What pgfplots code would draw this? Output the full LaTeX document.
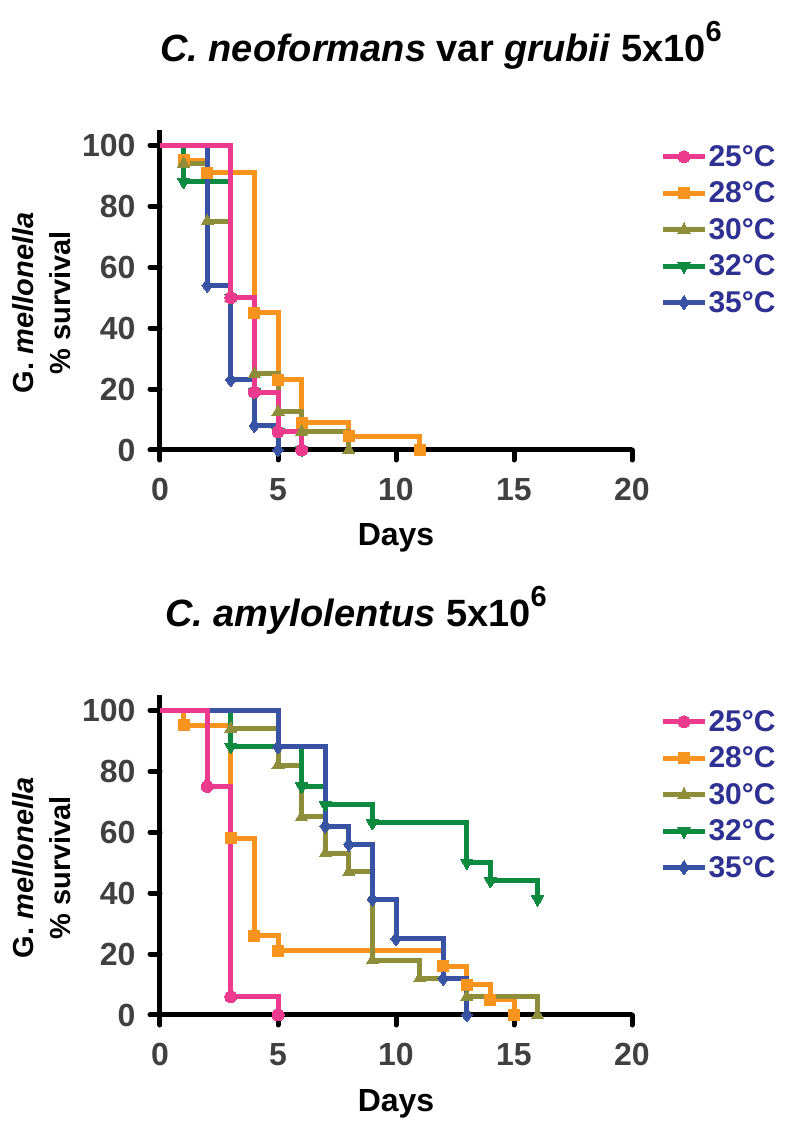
\documentclass[border=0pt]{standalone}
\usepackage{fontspec}
\setmainfont{Liberation Sans}
\usepackage{pgfplots}
\pgfplotsset{compat=1.18}
\definecolor{cpink}{HTML}{EC3A8E}
\definecolor{corange}{HTML}{F7941D}
\definecolor{colive}{HTML}{8E8E3A}
\definecolor{cgreen}{HTML}{0B8A40}
\definecolor{cblue}{HTML}{3953A4}
\definecolor{legblue}{HTML}{2E3192}
\definecolor{tickgray}{HTML}{404040}
\pgfplotsset{
  s25/.style={cpink, line width=5pt, mark=*, mark size=6pt, mark options={solid, fill=cpink, line width=0pt}},
  s28/.style={corange, line width=5pt, mark=square*, mark size=5.5pt, mark options={solid, fill=corange, line width=0pt}},
  s30/.style={colive, line width=5pt, mark=triangle*, mark size=7pt, mark options={solid, fill=colive, line width=0pt}},
  s32/.style={cgreen, line width=5pt, mark=triangle*, mark size=7pt, mark options={solid, fill=cgreen, line width=0pt, rotate=180}},
  s35/.style={cblue, line width=5pt, mark=diamond*, mark size=7pt, mark options={solid, fill=cblue, line width=0pt}},
  survax/.style={
    scale only axis, width=472pt, height=320pt,
    xmin=0, xmax=20, ymin=0, ymax=105,
    axis x line*=bottom, axis y line*=left,
    axis line style={line width=5pt, black},
    xtick={0,5,...,20}, ytick={0,20,...,100},
    tick align=outside, major tick length=10pt,
    every tick/.style={line width=5pt, black, line cap=round},
    tick label style={font=\bfseries\fontsize{32}{32}\selectfont, text=tickgray},
    /pgf/number format/assume math mode=true,
    xticklabel style={yshift=-15pt},
    yticklabel style={xshift=-11pt},
    clip=false,
    xlabel={Days},
    xlabel style={font=\bfseries\fontsize{32}{32}\selectfont, at={(axis description cs:0.5,0)}, anchor=base, yshift=-96pt},
    ylabel={G. \textit{mellonella}\\\% survival},
    ylabel style={font=\bfseries\fontsize{29}{37}\selectfont, align=center, at={(axis description cs:-0.25,0.46)}, anchor=center},
    legend style={at={(1.06,0.955)}, anchor=north west, draw=none, fill=none, inner sep=0pt,
      font=\bfseries\fontsize{30}{30}\selectfont, text=legblue, row sep=12pt,
      nodes={inner sep=1pt}},
    legend cell align=left,
    legend image code/.code={\draw[#1, mark repeat=2, mark phase=2] plot coordinates {(0pt,0pt)(21pt,0pt)(42pt,0pt)};},
    const plot mark left,
  },
}
\begin{document}
\begin{tikzpicture}
\useasboundingbox (0,0) rectangle (798pt,1127pt);
% titles
\node[anchor=base west, inner sep=0pt, font=\bfseries\fontsize{38}{38}\selectfont] at (160pt,1065pt)
  {\textit{C. neoformans} var \textit{grubii} 5x10\raisebox{20pt}{\fontsize{29}{29}\selectfont 6}};
\node[anchor=base west, inner sep=0pt, font=\bfseries\fontsize{38}{38}\selectfont] at (165pt,500pt)
  {\textit{C. amylolentus} 5x10\raisebox{20pt}{\fontsize{29}{29}\selectfont 6}};

% top plot
\begin{axis}[survax, at={(160pt,677pt)}, anchor=origin]
\addlegendimage{s25}\addlegendentry{25°C}
\addlegendimage{s28}\addlegendentry{28°C}
\addlegendimage{s30}\addlegendentry{30°C}
\addlegendimage{s32}\addlegendentry{32°C}
\addlegendimage{s35}\addlegendentry{35°C}
\addplot[s28, forget plot, mark indices={2,3,4,5,6,7,8}] coordinates {(0,100)(1,95)(2,91)(4,45)(5,23)(6,9)(8,4.5)(11,0)};
\addplot[s30, forget plot, mark indices={2,3,4,5,6,7,8}] coordinates {(0,100)(1,94)(2,75)(3,50)(4,25)(5,12.5)(6,6)(8,0)};
\addplot[s32, forget plot, mark indices={2,3,4,5,6}] coordinates {(0,100)(1,88)(3,50)(4,19)(5,6)(6,0)};
\addplot[s35, forget plot, mark indices={2,3,4,5}] coordinates {(0,100)(2,54)(3,23)(4,8)(5,0)};
\addplot[s25, forget plot, mark indices={2,3,4,5,6}] coordinates {(0,100)(3,50)(4,19)(5,6)(6,0)};
\end{axis}

% bottom plot
\begin{axis}[survax, at={(160pt,112pt)}, anchor=origin]
\addlegendimage{s25}\addlegendentry{25°C}
\addlegendimage{s28}\addlegendentry{28°C}
\addlegendimage{s30}\addlegendentry{30°C}
\addlegendimage{s32}\addlegendentry{32°C}
\addlegendimage{s35}\addlegendentry{35°C}
\addplot[s28, forget plot, mark indices={2,3,4,5,6,7,8,9}] coordinates {(0,100)(1,95)(3,58)(4,26)(5,21)(12,16)(13,10)(14,5)(15,0)};
\addplot[s30, forget plot, mark indices={2,3,4,5,6,7,8,9,10}] coordinates {(0,100)(3,94)(5,82)(6,65)(7,53)(8,47)(9,18)(11,12)(13,6)(16,0)};
\addplot[s32, forget plot, mark indices={2,3,4,5,6,7,8}] coordinates {(0,100)(3,88)(6,75)(7,69)(9,63)(13,50)(14,44)(16,38)};
\addplot[s35, forget plot, mark indices={2,3,4,5,6,7,8}] coordinates {(0,100)(5,88)(7,62)(8,56)(9,38)(10,25)(12,12)(13,0)};
\addplot[s25, forget plot, mark indices={2,3,4}] coordinates {(0,100)(2,75)(3,6)(5,0)};
\end{axis}
\end{tikzpicture}
\end{document}
